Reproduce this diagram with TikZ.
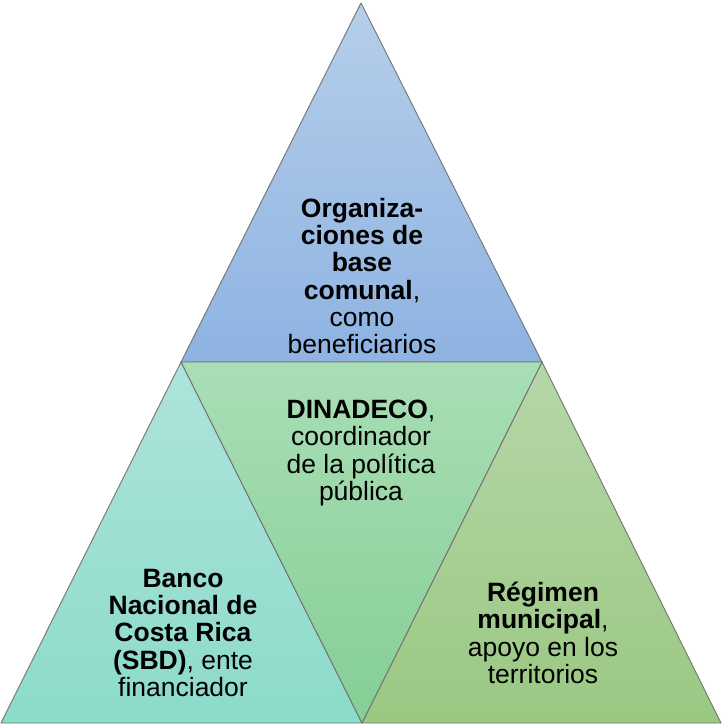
\documentclass[tikz,border=0pt]{standalone}
\usepackage{fontspec}
\setmainfont{Liberation Sans}
\usetikzlibrary{positioning}
\definecolor{orgtop}{HTML}{B6CEEA}
\definecolor{orgbot}{HTML}{8EB3E2}
\definecolor{dintop}{HTML}{A9DEB6}
\definecolor{dinbot}{HTML}{85CE95}
\definecolor{bantop}{HTML}{AEE3DB}
\definecolor{banbot}{HTML}{8CDBCB}
\definecolor{regtop}{HTML}{B7D6A8}
\definecolor{regbot}{HTML}{9AC882}

\begin{document}
\begin{tikzpicture}[x=1pt,y=-1pt,
  tri/.style={draw=black!55, line width=0.9pt, line join=round},
  lbl/.style={align=center, font=\fontsize{26.5}{27.2}\selectfont, inner sep=0pt}]
 \useasboundingbox (0,0) rectangle (722,726);
 \coordinate (apex) at (361,3);
 \coordinate (midl) at (181,362);
 \coordinate (midr) at (542,362);
 \coordinate (botl) at (1,723);
 \coordinate (botm) at (362,723);
 \coordinate (botr) at (721,723);
 \draw[tri, top color=orgtop, bottom color=orgbot] (apex) -- (midr) -- (midl) -- cycle;
 \draw[tri, top color=bantop, bottom color=banbot] (midl) -- (botm) -- (botl) -- cycle;
 \draw[tri, top color=regtop, bottom color=regbot] (midr) -- (botr) -- (botm) -- cycle;
 \draw[tri, top color=dintop, bottom color=dinbot] (midl) -- (midr) -- (botm) -- cycle;
 \node[lbl] (org) at (362,276) {\textbf{Organiza-}\\\textbf{ciones de}\\\textbf{base}\\\textbf{comunal}, \\como\\beneficiarios};
 \node[lbl] (din) at (361,453) {\textbf{DINADECO},\\coordinador\\de la política\\pública};
 \node[lbl] (ban) at (183,633) {\textbf{Banco}\\\textbf{Nacional de}\\\textbf{Costa Rica}\\\textbf{(SBD)}, ente\\financiador};
 \node[lbl] (reg) at (543,633) {\textbf{Régimen}\\\textbf{municipal},\\apoyo en los\\territorios};
\end{tikzpicture}
\end{document}
